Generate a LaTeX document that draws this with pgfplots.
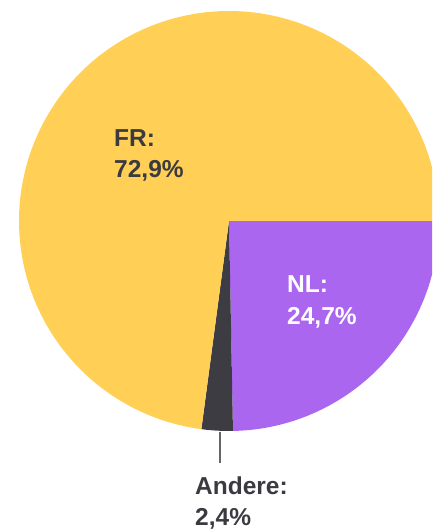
\documentclass[border=0pt]{standalone}
\usepackage{pgfplots}
\pgfplotsset{compat=1.18}
\usepackage{fontspec}
\setmainfont{Liberation Sans}
\definecolor{pieyellow}{HTML}{FFCF56}
\definecolor{piepurple}{HTML}{AA66EE}
\definecolor{piedark}{HTML}{3D3C42}
\definecolor{txtdark}{HTML}{3A3A40}
\begin{document}
\begin{tikzpicture}
\useasboundingbox (0,0) rectangle (432pt,532pt);
\begin{axis}[
  at={(0,0)}, anchor=south west,
  width=432pt, height=532pt, scale only axis,
  xmin=0, xmax=432, ymin=0, ymax=532,
  axis lines=none, clip=true,
]
% shares: NL 24.7, Andere 2.4, FR 72.9 (clockwise from 3 o'clock)
\addplot[fill=piepurple, draw=none, domain=-88.92:0, samples=80]
  ({229+210*cos(x)},{311+210*sin(x)}) -- (axis cs:229,311) -- cycle;
\addplot[fill=piedark, draw=none, domain=-97.56:-88.92, samples=20]
  ({229+210*cos(x)},{311+210*sin(x)}) -- (axis cs:229,311) -- cycle;
\addplot[fill=pieyellow, draw=none, domain=-360:-97.56, samples=200]
  ({229+210*cos(x)},{311+210*sin(x)}) -- (axis cs:229,311) -- cycle;
\addplot[color=black!60, line width=1.4pt] coordinates {(220,100) (220,69)};
\node[anchor=base west, inner sep=0pt, font=\fontsize{24.5}{28}\selectfont\bfseries, text=txtdark] at (axis cs:114,385) {FR:};
\node[anchor=base west, inner sep=0pt, font=\fontsize{24.5}{28}\selectfont\bfseries, text=txtdark] at (axis cs:114,354) {72,9\%};
\node[anchor=base west, inner sep=0pt, font=\fontsize{24.5}{28}\selectfont\bfseries, text=white] at (axis cs:287,239) {NL:};
\node[anchor=base west, inner sep=0pt, font=\fontsize{24.5}{28}\selectfont\bfseries, text=white] at (axis cs:287,207) {24,7\%};
\node[anchor=base west, inner sep=0pt, font=\fontsize{24.5}{28}\selectfont\bfseries, text=txtdark] at (axis cs:195,37) {Andere:};
\node[anchor=base west, inner sep=0pt, font=\fontsize{24.5}{28}\selectfont\bfseries, text=txtdark] at (axis cs:195,6) {2,4\%};
\end{axis}
\end{tikzpicture}
\end{document}
